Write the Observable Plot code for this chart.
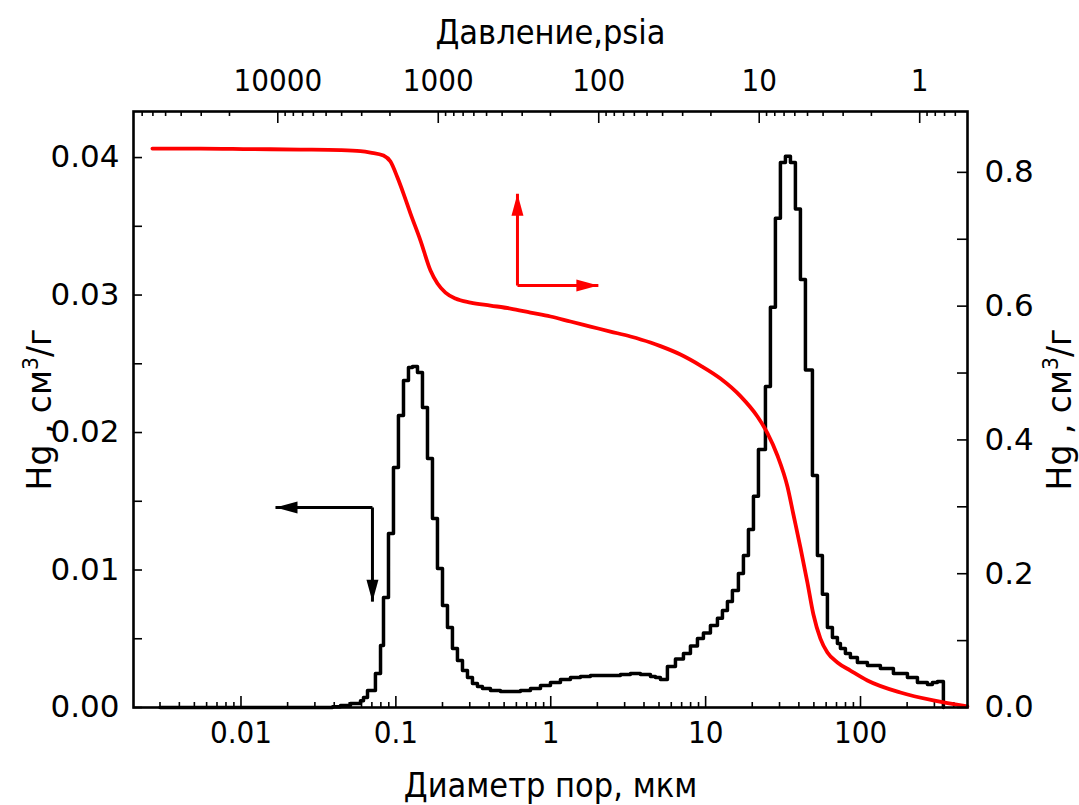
<!DOCTYPE html>
<html><head><meta charset="utf-8">
<script src="https://cdn.jsdelivr.net/npm/d3@7"></script>
<script src="https://cdn.jsdelivr.net/npm/@observablehq/plot@0.6"></script>
<style>body{margin:0;background:#fff}</style>
</head><body><div id="chart"></div>
<script>
// Histogram (left axis): pore diameter (µm) at left edge of each step, value (см³/г)
const histD = [0.003, 0.0390, 0.0439, 0.0509, 0.0591, 0.0618, 0.0656, 0.0738, 0.0796, 0.0832, 0.0896, 0.0965, 0.1039, 0.1120, 0.1206, 0.1280, 0.1379, 0.1485, 0.1600, 0.1723, 0.1856, 0.2000, 0.2154, 0.2319, 0.2498, 0.2692, 0.2900, 0.3123, 0.3363, 0.3622, 0.4081, 0.4735, 0.5493, 0.6373, 0.7396, 0.8584, 0.9956, 1.155, 1.340, 1.555, 1.804, 2.094, 2.429, 2.818, 3.270, 3.794, 4.403, 4.742, 5.108, 5.666, 6.385, 7.191, 7.979, 8.855, 9.678, 10.74, 11.92, 12.84, 13.83, 14.89, 16.28, 17.54, 18.90, 20.36, 21.93, 24.33, 26.20, 28.22, 30.40, 32.75, 35.28, 37.99, 40.93, 44.09, 48.93, 52.70, 56.75, 61.14, 65.86, 70.94, 74.18, 79.89, 86.06, 95.50, 110.8, 134.4, 163.1, 200.9, 233.1, 270.4, 291.2, 313.7, 342.9];
const histV = [0, 0.00005, 0.00015, 0.0003, 0.0005, 0.00073, 0.00124, 0.00247, 0.00451, 0.0080, 0.01265, 0.01745, 0.02124, 0.02378, 0.02473, 0.0248, 0.02436, 0.02182, 0.01811, 0.01375, 0.01011, 0.00742, 0.00582, 0.00429, 0.00342, 0.00269, 0.00218, 0.00175, 0.00153, 0.00138, 0.00124, 0.00116, 0.00116, 0.00124, 0.00138, 0.0016, 0.00182, 0.00204, 0.00218, 0.00225, 0.00233, 0.00233, 0.00233, 0.0024, 0.00247, 0.0024, 0.00225, 0.00218, 0.00204, 0.00298, 0.00353, 0.00393, 0.00447, 0.00502, 0.00541, 0.00596, 0.00649, 0.00705, 0.00771, 0.00851, 0.00975, 0.01105, 0.01295, 0.01537, 0.01876, 0.02335, 0.02911, 0.03558, 0.03964, 0.0401, 0.03964, 0.03625, 0.03113, 0.02454, 0.01687, 0.01105, 0.00824, 0.00582, 0.00509, 0.00465, 0.00429, 0.00393, 0.00364, 0.00327, 0.00305, 0.00284, 0.00247, 0.00218, 0.00182, 0.00167, 0.00182, 0.00189, 0];

// Cumulative intrusion (right axis)
const cumD = [0.00268, 0.00548, 0.01152, 0.02422, 0.0439, 0.0591, 0.06855, 0.0832, 0.0923, 0.1024, 0.1120, 0.1243, 0.1442, 0.1673, 0.1856, 0.2090, 0.2425, 0.3031, 0.4081, 0.5493, 0.7396, 0.9956, 1.340, 1.804, 2.429, 3.270, 4.403, 5.108, 6.877, 9.259, 12.46, 16.78, 21.60, 25.06, 29.07, 33.74, 36.88, 40.93, 45.42, 49.66, 55.09, 61.14, 70.94, 86.06, 110.8, 180.9, 295.5, 489.8];
const cumV = [0.8356, 0.8356, 0.8348, 0.8341, 0.8333, 0.8318, 0.8296, 0.8251, 0.8161, 0.7922, 0.7683, 0.7384, 0.6981, 0.6532, 0.6338, 0.6203, 0.6114, 0.6054, 0.6009, 0.5964, 0.5904, 0.5845, 0.5770, 0.5695, 0.5620, 0.5546, 0.5456, 0.5402, 0.5277, 0.5112, 0.4918, 0.4655, 0.4350, 0.4102, 0.3767, 0.3303, 0.2885, 0.2392, 0.1868, 0.1390, 0.1031, 0.0822, 0.0673, 0.0553, 0.0404, 0.0224, 0.0105, 0.0015];

// Tick labels
const bottomTicks = [0.01, 0.1, 1, 10, 100];
const topTicks = [10000, 1000, 100, 10, 1];       // psia
const leftTicks = [0, 0.01, 0.02, 0.03, 0.04];
const rightTicks = [0, 0.2, 0.4, 0.6, 0.8];

// Annotation arrows (corner -> tip): black in left-axis units, red in right-axis units
const blackArrows = [
  {x1: 0.0706, y1: 0.01455, x2: 0.0167, y2: 0.01455, rot: -90},
  {x1: 0.0706, y1: 0.01455, x2: 0.0706, y2: 0.0077, rot: 180}
];
const redArrows = [
  {x1: 0.6097, y1: 0.6308, x2: 0.6097, y2: 0.7680, rot: 0},
  {x1: 0.6097, y1: 0.6308, x2: 2.03, y2: 0.6308, rot: 90}
];

const xTitle = "Диаметр пор, мкм";
const topTitle = "Давление,psia";
const yTitle = "Hg , см³/г";

// scales
const xDomain = [0.002023, 490.7];
const yTop = 0.04335;
const k = 669 / 13750;              // right-axis unit -> left-axis unit
// pressure axis (log, reversed) expressed in diameter units
const pToD = p => Math.pow(10, -1.76243 + (4 - Math.log10(p)) * 1.03615);

const W = 1079, H = 805;
const M = {top: 111, right: 112, bottom: 98, left: 133};
const innerW = W - M.left - M.right, innerH = H - M.top - M.bottom;
const perPx = yTop / innerH;

const minorLog = (lo, hi) => {
  const out = [];
  for (let e = -4; e <= 6; e++) for (let m = 2; m <= 9; m++) {
    const v = m * Math.pow(10, e);
    if (v > lo && v < hi) out.push(v);
  }
  return out;
};
const bottomMinor = minorLog(xDomain[0], xDomain[1]);
const topMinorD = minorLog(0.5044, 79250).map(pToD);
const topMajorD = topTicks.map(pToD);
const leftMinor = d3.range(0, 0.0431, 0.005);
const rightMinor = d3.range(0, 0.81, 0.1).map(r => r * k);

const hist = histD.map((d, i) => ({d, v: histV[i]}));
const cum = cumD.map((d, i) => ({d, v: cumV[i] * k}));

const COND = "DejaVu Sans Condensed, DejaVu Sans, sans-serif";
const REG = "DejaVu Sans, sans-serif";

// filled arrowhead shape for Plot.vector (points up at rotate 0)
const head = {draw(ctx, l, r) { ctx.moveTo(0, -l); ctx.lineTo(-r, 0); ctx.lineTo(r, 0); ctx.closePath(); }};

const chart = Plot.plot({
  width: W, height: H,
  marginTop: M.top, marginRight: M.right, marginBottom: M.bottom, marginLeft: M.left,
  style: {background: "white", color: "black", fontFamily: REG},
  x: {type: "log", domain: xDomain},
  y: {domain: [0, yTop]},
  marks: [
    // inward ticks
    Plot.tickX(bottomTicks, {x: d => d, insetTop: innerH - 11, stroke: "black", strokeWidth: 1.6}),
    Plot.tickX(bottomMinor, {x: d => d, insetTop: innerH - 5, stroke: "black", strokeWidth: 1.6}),
    Plot.ruleX(topMajorD, {x: d => d, y1: yTop, y2: yTop - 12 * perPx, stroke: "black", strokeWidth: 1.6}),
    Plot.ruleX(topMinorD, {x: d => d, y1: yTop, y2: yTop - 5 * perPx, stroke: "black", strokeWidth: 1.6}),
    Plot.tickY(leftMinor, {y: d => d, insetRight: innerW - 9, stroke: "black", strokeWidth: 1.6}),
    Plot.tickY(rightMinor, {y: d => d, insetLeft: innerW - 10, stroke: "black", strokeWidth: 1.6}),
    // tick labels
    Plot.axisX({anchor: "bottom", ticks: bottomTicks, tickSize: 0, tickPadding: 13, tickFormat: d => String(d), fontSize: 31, fontFamily: COND, label: null}),
    Plot.text(topTicks, {x: p => pToD(p), text: p => String(p), frameAnchor: "top", dy: -30, fontSize: 31, fontFamily: COND, lineAnchor: "middle"}),
    Plot.axisY({anchor: "left", ticks: leftTicks, tickSize: 0, tickPadding: 14, tickFormat: d => d.toFixed(2), fontSize: 31, fontFamily: REG, label: null}),
    Plot.axisY({anchor: "right", ticks: rightTicks.map(r => r * k), tickSize: 0, tickPadding: 17, tickFormat: d => (d / k).toFixed(1), fontSize: 31, fontFamily: REG, label: null}),
    // titles
    Plot.text([xTitle], {text: d => d, frameAnchor: "bottom", dy: 79, fontSize: 34, fontFamily: COND, lineAnchor: "middle", textAnchor: "middle"}),
    Plot.text([topTitle], {text: d => d, frameAnchor: "top", dy: -78, fontSize: 34, fontFamily: COND, lineAnchor: "middle", textAnchor: "middle"}),
    Plot.text([yTitle], {text: d => d, frameAnchor: "left", dx: -93, rotate: -90, fontSize: 33, fontFamily: REG, lineAnchor: "middle", textAnchor: "middle"}),
    Plot.text([yTitle], {text: d => d, frameAnchor: "right", dx: 93, rotate: -90, fontSize: 33, fontFamily: REG, lineAnchor: "middle", textAnchor: "middle"}),
    // data
    Plot.line(hist, {x: "d", y: "v", curve: "step-after", stroke: "black", strokeWidth: 3.5}),
    Plot.line(cum, {x: "d", y: "v", curve: "monotone-x", stroke: "#ff0000", strokeWidth: 3.8}),
    // arrows
    Plot.link(blackArrows, {x1: "x1", y1: "y1", x2: "x2", y2: "y2", stroke: "black", strokeWidth: 3}),
    Plot.vector(blackArrows, {x: "x2", y: "y2", rotate: "rot", length: 22, r: 6, anchor: "end", shape: head, fill: "black", stroke: "none"}),
    Plot.link(redArrows, {x1: "x1", y1: d => d.y1 * k, x2: "x2", y2: d => d.y2 * k, stroke: "#ff0000", strokeWidth: 3}),
    Plot.vector(redArrows, {x: "x2", y: d => d.y2 * k, rotate: "rot", length: 22, r: 6, anchor: "end", shape: head, fill: "#ff0000", stroke: "none"}),
    Plot.frame({stroke: "black", strokeWidth: 2.6})
  ]
});
document.getElementById("chart").appendChild(chart);

// superscript "3" in the y titles
d3.select(chart).selectAll("text").filter(function() { return this.textContent === yTitle; }).each(function() {
  const t = d3.select(this); t.text(null);
  t.append("tspan").text("Hg , см");
  t.append("tspan").attr("font-size", "0.62em").attr("dy", "-0.65em").text("3");
  t.append("tspan").attr("dy", "0.4em").text("/г");
});
</script>
</body></html>
